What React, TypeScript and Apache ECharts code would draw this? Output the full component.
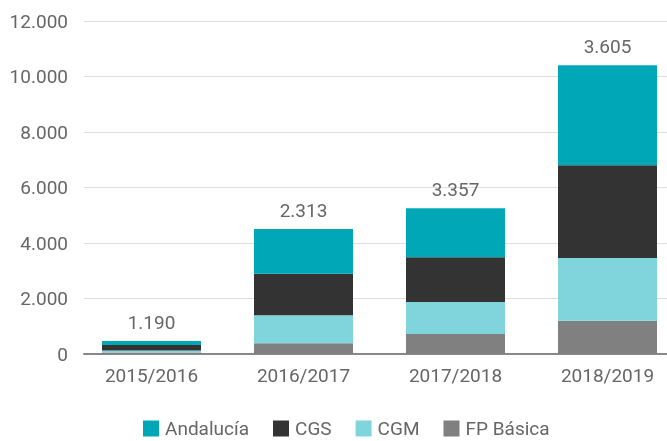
import React, { useEffect, useRef } from "react";
import * as echarts from "echarts";

const categories = ["2015/2016", "2016/2017", "2017/2018", "2018/2019"];
const fpBasica = [50, 390, 720, 1200];
const cgm = [80, 1010, 1150, 2256];
const cgs = [190, 1490, 1620, 3348];
const andalucia = [150, 1610, 1764, 3605];
const topLabels = ["1.190", "2.313", "3.357", "3.605"];
const yTicks = [0, 2000, 4000, 6000, 8000, 10000, 12000];

const FONT = "Roboto";
const fmt = (v: number) => {
  const s = String(Math.round(v));
  return s.replace(/\B(?=(\d{3})+(?!\d))/g, ".");
};

export default function App() {
  const ref = useRef<HTMLDivElement>(null);
  useEffect(() => {
    if (!ref.current) return;
    const chart = echarts.init(ref.current, null, { renderer: "svg" });
    const yMin = yTicks[0];
    const yMax = yTicks[yTicks.length - 1];
    const interval = yTicks[1] - yTicks[0];
    const barSeries = (name: string, data: number[], color: string, extra: any = {}) => ({
      name,
      type: "bar",
      stack: "total",
      data,
      barWidth: 99,
      clip: false,
      xAxisIndex: 0,
      yAxisIndex: 0,
      itemStyle: { color },
      emphasis: { disabled: true },
      ...extra,
    });
    chart.setOption({
      animation: false,
      textStyle: { fontFamily: FONT },
      grid: [
        { left: 151.5, width: 456, top: 21, height: 333 },
        { left: 84, right: 0, top: 21, height: 333 },
      ],
      legend: {
        data: ["Andalucía", "CGS", "CGM", "FP Básica"],
        left: 143,
        top: 419,
        padding: 0,
        itemWidth: 16,
        itemHeight: 16,
        itemGap: 24,
        icon: "rect",
        textStyle: {
          fontFamily: FONT,
          fontSize: 19,
          lineHeight: 18,
          color: "#666",
          padding: [0, 0, 0, 1],
        },
      },
      xAxis: [
        {
          type: "category",
          gridIndex: 0,
          data: categories,
          boundaryGap: false,
          axisLine: { show: false },
          axisTick: { show: false },
          axisLabel: { fontFamily: FONT, fontSize: 19, color: "#666", margin: 12 },
        },
        {
          type: "value",
          gridIndex: 1,
          min: 0,
          max: 1,
          axisLine: { show: true, onZero: false, lineStyle: { color: "#888", width: 2 } },
          axisTick: { show: false },
          axisLabel: { show: false },
          splitLine: { show: false },
        },
      ],
      yAxis: [
        {
          type: "value",
          gridIndex: 0,
          min: yMin,
          max: yMax,
          interval,
          show: false,
          splitLine: { show: false },
        },
        {
          type: "value",
          gridIndex: 1,
          min: yMin,
          max: yMax,
          interval,
          axisLine: { show: false },
          axisTick: { show: false },
          axisLabel: {
            fontFamily: FONT,
            fontSize: 19,
            color: "#666",
            margin: 16,
            formatter: (v: number) => fmt(v),
          },
          splitLine: { show: true, lineStyle: { color: "#ddd", width: 1 } },
        },
      ],
      series: [
        barSeries("FP Básica", fpBasica, "#808080"),
        barSeries("CGM", cgm, "#80D4DC"),
        barSeries("CGS", cgs, "#333333"),
        barSeries("Andalucía", andalucia, "#00A8B7", {
          label: {
            show: true,
            position: "top",
            distance: 9,
            fontFamily: FONT,
            fontSize: 19,
            color: "#666",
            formatter: (p: any) => topLabels[p.dataIndex],
          },
        }),
      ],
    });
    return () => chart.dispose();
  }, []);
  return (
    <div
      ref={ref}
      style={{ position: "fixed", left: 0, top: 0, width: 667, height: 441 }}
    />
  );
}
